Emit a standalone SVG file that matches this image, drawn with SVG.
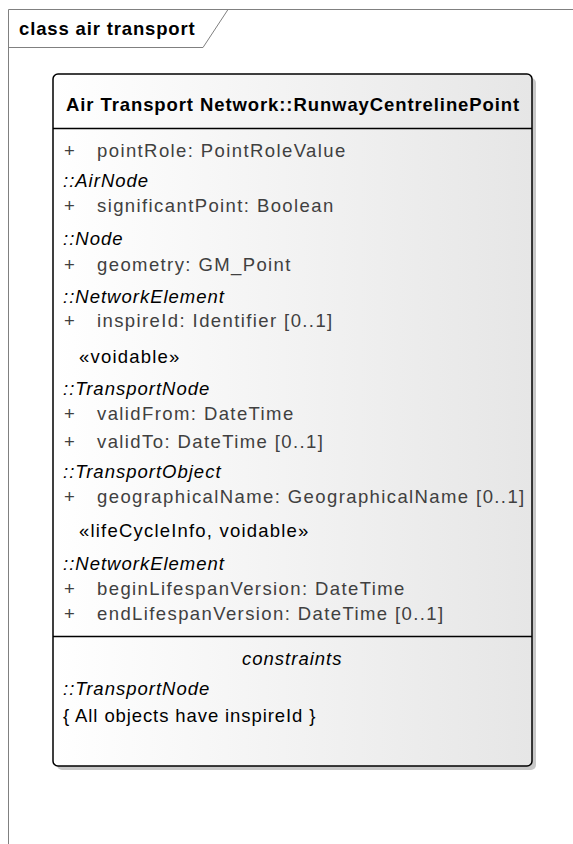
<svg xmlns="http://www.w3.org/2000/svg" width="573" height="844" viewBox="0 0 573 844">
<style>
.t{font-family:"Liberation Sans",Arial,sans-serif;font-size:18.5px;letter-spacing:1.2px;}
.a{fill:#404040;letter-spacing:1.4px;}
.i{font-style:italic;fill:#000;letter-spacing:1px;}
.b{font-weight:bold;fill:#000;letter-spacing:0.85px;}
.c{letter-spacing:0.9px;}
</style>
<defs>
<linearGradient id="g" x1="0" y1="0" x2="1" y2="0">
<stop offset="0" stop-color="#ffffff"/>
<stop offset="1" stop-color="#e6e6e6"/>
</linearGradient>
</defs>
<g id="frame">
<rect x="0" y="0" width="573" height="844" fill="#fff"/>
<path d="M8.5 844 V9.5 H573" fill="none" stroke="#808080" stroke-width="1"/>
<path d="M8.5 47.5 H203 L228 9.5" fill="none" stroke="#808080" stroke-width="1"/>
<text class="t b" x="19" y="35">class air transport</text>
</g>
<g id="RunwayCentrelinePoint">
<rect x="57" y="78" width="479" height="692" rx="5" fill="#c8c8c8"/>
<rect x="53" y="74" width="479" height="692" rx="5" fill="url(#g)" stroke="#000" stroke-width="1.5"/>
<line x1="53" y1="128.5" x2="532" y2="128.5" stroke="#000" stroke-width="1.5"/>
<line x1="53" y1="636.5" x2="532" y2="636.5" stroke="#000" stroke-width="1.5"/>
<text class="t b" x="66" y="111" textLength="454" lengthAdjust="spacing">Air Transport Network::RunwayCentrelinePoint</text>
<text class="t a" x="64" y="157">+</text><text class="t a" x="97" y="157">pointRole: PointRoleValue</text>
<text class="t i" x="63" y="187">::AirNode</text>
<text class="t a" x="64" y="212">+</text><text class="t a" x="97" y="212">significantPoint: Boolean</text>
<text class="t i" x="63" y="245">::Node</text>
<text class="t a" x="64" y="271">+</text><text class="t a" x="97" y="271">geometry: GM_Point</text>
<text class="t i" x="63" y="303">::NetworkElement</text>
<text class="t a" x="64" y="327">+</text><text class="t a" x="97" y="327">inspireId: Identifier [0..1]</text>
<text class="t" x="79" y="363">«voidable»</text>
<text class="t i" x="63" y="395">::TransportNode</text>
<text class="t a" x="64" y="420">+</text><text class="t a" x="97" y="420">validFrom: DateTime</text>
<text class="t a" x="64" y="448">+</text><text class="t a" x="97" y="448">validTo: DateTime [0..1]</text>
<text class="t i" x="63" y="478">::TransportObject</text>
<text class="t a" x="64" y="503">+</text><text class="t a" x="97" y="503">geographicalName: GeographicalName [0..1]</text>
<text class="t" x="79" y="537">«lifeCycleInfo, voidable»</text>
<text class="t i" x="63" y="570">::NetworkElement</text>
<text class="t a" x="64" y="595">+</text><text class="t a" x="97" y="595">beginLifespanVersion: DateTime</text>
<text class="t a" x="64" y="620">+</text><text class="t a" x="97" y="620">endLifespanVersion: DateTime [0..1]</text>
<text class="t i" x="242" y="665">constraints</text>
<text class="t i" x="63" y="695">::TransportNode</text>
<text class="t c" x="63" y="722">{ All objects have inspireId }</text>
</g>
<g id="connectors"/>
</svg>
